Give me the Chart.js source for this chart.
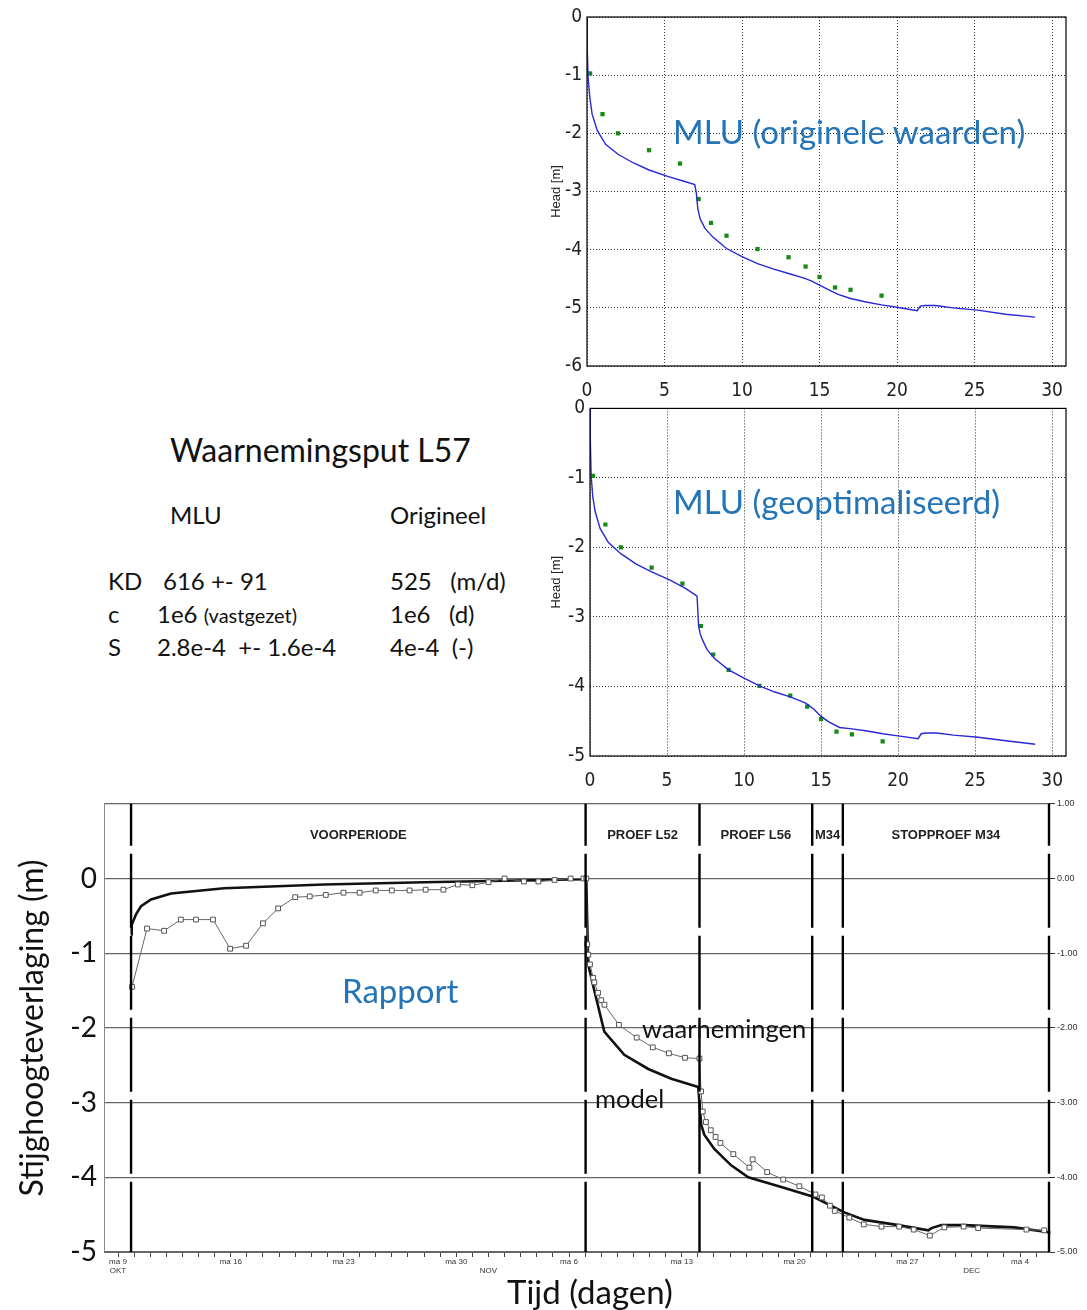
<!DOCTYPE html>
<html>
<head>
<meta charset="utf-8">
<script src="https://cdn.jsdelivr.net/npm/chart.js@4.4.1/dist/chart.umd.min.js"></script>
<style>
html,body{margin:0;padding:0;background:#fff;}
body{width:1087px;height:1310px;position:relative;overflow:hidden;font-family:Lato,'Open Sans',sans-serif;}
canvas{position:absolute;}
.t{position:absolute;white-space:pre;line-height:1;color:#111;}
.blauw{color:#2474b8;}
</style>
</head>
<body>
<canvas id="chartOrigineel" width="547" height="400" style="left:540px;top:0px;width:547px;height:400px"></canvas>
<canvas id="chartOptimaal" width="547" height="400" style="left:540px;top:392px;width:547px;height:400px"></canvas>
<canvas id="chartRapport" width="1087" height="530" style="left:0px;top:780px;width:1087px;height:530px"></canvas>

<div class="t" style="left:170px;top:434px;font-size:32px">Waarnemingsput L57</div>
<div class="t" style="left:170px;top:503px;font-size:24px">MLU</div>
<div class="t" style="left:390px;top:503px;font-size:24px">Origineel</div>
<div class="t" style="left:108px;top:569px;font-size:24px">KD</div>
<div class="t" style="left:163px;top:569px;font-size:24px">616 +- 91</div>
<div class="t" style="left:390px;top:569px;font-size:24px">525   (m/d)</div>
<div class="t" style="left:108px;top:602px;font-size:24px">c</div>
<div class="t" style="left:157px;top:602px;font-size:24px">1e6 <span style="font-size:20px">(vastgezet)</span></div>
<div class="t" style="left:390px;top:602px;font-size:24px">1e6   (d)</div>
<div class="t" style="left:108px;top:635px;font-size:24px">S</div>
<div class="t" style="left:157px;top:635px;font-size:24px">2.8e-4  +- 1.6e-4</div>
<div class="t" style="left:390px;top:635px;font-size:24px">4e-4  (-)</div>

<div class="t blauw" style="left:673px;top:115px;font-size:33px">MLU (originele waarden)</div>
<div class="t blauw" style="left:673px;top:485px;font-size:33px">MLU (geoptimaliseerd)</div>
<div class="t blauw" style="left:342px;top:974px;font-size:33px">Rapport</div>
<div class="t" style="left:642px;top:1016px;font-size:25.5px">waarnemingen</div>
<div class="t" style="left:595px;top:1086px;font-size:25.5px">model</div>
<div class="t" style="left:507px;top:1275px;font-size:33px">Tijd (dagen)</div>

<script>
/* MLU-fits en rapportgrafiek voor waarnemingsput L57 */

// MLU: tijd in dagen sinds start proef L52
var mluMetingTijd = [0.2, 1, 2, 4, 6, 7.2, 8, 9, 11, 13, 14.1, 15, 16, 17, 19];
var mluMetingHead = [-0.97, -1.67, -2.0, -2.29, -2.52, -3.13, -3.54, -3.76, -3.99, -4.13, -4.29, -4.47, -4.65, -4.69, -4.79];

var mluModelTijd = [0, 0.02, 0.07, 0.18, 0.33, 0.66, 1.2, 2, 3, 4, 5.2, 6.2, 6.95, 7.05, 7.15, 7.3, 7.6, 8.1, 9, 10,
  11, 12, 13, 14, 14.5, 15, 15.5, 16.2, 17, 18, 19, 20, 21.3, 21.5, 21.8, 22.5, 23.6, 25.2, 27, 28.9];
var mluOrigineelHead = [0, -0.58, -1.04, -1.38, -1.67, -1.95, -2.19, -2.36, -2.51, -2.63, -2.74, -2.82, -2.88, -3.02, -3.3, -3.47, -3.63, -3.78, -3.98, -4.12,
  -4.24, -4.33, -4.41, -4.49, -4.54, -4.61, -4.68, -4.77, -4.84, -4.9, -4.95, -4.99, -5.05, -4.97, -4.96, -4.96, -5.0, -5.04, -5.11, -5.16];
var mluOptimaalHead = [0, -0.43, -0.95, -1.27, -1.48, -1.73, -1.93, -2.09, -2.24, -2.35, -2.47, -2.59, -2.70, -3.13, -3.24, -3.33, -3.47, -3.6, -3.76, -3.88,
  -3.99, -4.08, -4.15, -4.24, -4.32, -4.43, -4.51, -4.59, -4.61, -4.64, -4.68, -4.71, -4.75, -4.68, -4.67, -4.67, -4.70, -4.73, -4.78, -4.83];

var mluTijdTicks = [0, 5, 10, 15, 20, 25, 30];

// Rapport: dagen sinds maandag 9 oktober
var rapportModelDag = [0.81, 0.85, 1.12, 1.43, 2.05, 3.29, 6.58, 12.8, 19.0, 28.9, 29.07, 29.19, 29.57, 30.19, 31.43, 32.92, 34.35, 36.02,
  36.21, 36.4, 37.02, 38.07, 39.13, 41.18, 43.17, 45.09, 46.34, 48.45, 50.31, 50.5, 51.12, 52.55, 55.65, 57.89, 59.69];
var rapportModelStand = [-0.75, -0.62, -0.48, -0.37, -0.28, -0.2, -0.13, -0.08, -0.05, -0.01, 0, -1.15, -1.5, -2.05, -2.36, -2.55, -2.68, -2.79,
  -3.3, -3.43, -3.62, -3.84, -4.0, -4.13, -4.26, -4.47, -4.57, -4.64, -4.71, -4.68, -4.64, -4.64, -4.67, -4.74, -4.77];

var rapportMetingDag = [0.87, 1.8, 2.86, 3.9, 4.84, 5.9, 6.96, 7.95, 9.0, 9.94, 11.0, 11.9, 12.9, 14.0, 15.0, 16.0, 17.0, 18.1, 19.1, 20.2,
  21.1, 22.0, 23.0, 24.0, 25.2, 26.1, 27.1, 28.1, 28.9,
  29.07, 29.13, 29.2, 29.3, 29.5, 29.57, 29.8, 30.0, 30.2, 31.1, 32.2, 33.2, 34.2, 35.2, 36.1,
  36.2, 36.3, 36.5, 36.8, 37.1, 37.4, 38.2, 39.2, 39.4, 40.3, 41.3, 42.3, 43.3, 43.7, 44.2, 44.5, 45.4, 46.3, 47.4, 48.5,
  49.4, 50.4, 51.3, 52.5, 53.4, 56.4, 57.5];
var rapportMetingStand = [-1.45, -0.67, -0.70, -0.55, -0.55, -0.55, -0.94, -0.9, -0.6, -0.4, -0.25, -0.24, -0.22, -0.19, -0.19, -0.16, -0.16, -0.16, -0.15, -0.15,
  -0.08, -0.09, -0.05, 0.0, -0.04, -0.04, -0.02, 0, 0,
  0, -0.88, -1.02, -1.15, -1.33, -1.39, -1.53, -1.63, -1.69, -1.96, -2.13, -2.26, -2.34, -2.4, -2.41,
  -2.85, -3.12, -3.26, -3.37, -3.46, -3.54, -3.69, -3.87, -3.76, -3.93, -4.03, -4.12, -4.23, -4.27, -4.38, -4.45, -4.54, -4.63, -4.66, -4.66,
  -4.7, -4.78, -4.67, -4.66, -4.68, -4.7, -4.71];

var periodeGrens = [0.81, 29.03, 36.1, 43.1, 45.0, 57.8];
var periodeNamen = ['VOORPERIODE', 'PROEF L52', 'PROEF L56', 'M34', 'STOPPROEF M34'];

var weekDagen = [0, 7, 14, 21, 28, 35, 42, 49, 56];
var weekLabels = ['ma 9', 'ma 16', 'ma 23', 'ma 30', 'ma 6', 'ma 13', 'ma 20', 'ma 27', 'ma 4'];
var maandDagen = [0, 23, 53];
var maandLabels = ['OKT', 'NOV', 'DEC'];

(function(){
'use strict';

var SMAL = "'Liberation Sans Narrow','DejaVu Sans Condensed',Arial,sans-serif";
var ARIAL = "'Liberation Sans',Arial,sans-serif";

function punten(xs, ys){ return xs.map(function(x, i){ return {x:x, y:ys[i]}; }); }

var kader = {
  id:'kader',
  afterDatasetsDraw: function(chart){
    var a = chart.chartArea, ctx = chart.ctx;
    ctx.save();
    ctx.strokeStyle = '#000';
    ctx.lineWidth = 1.2;
    ctx.strokeRect(a.left, a.top, a.right - a.left, a.bottom - a.top);
    ctx.restore();
  }
};

function mluChart(id, modelHead, yMin, yWidth, padTop, xHeight){
  var yTicks = [];
  for(var v = 0; v >= yMin; v--) yTicks.push(v);
  return new Chart(document.getElementById(id), {
    type:'scatter',
    data:{datasets:[
      {data:punten(mluModelTijd, modelHead), showLine:true, borderColor:'#2828d8', borderWidth:1.4, pointRadius:0},
      {data:punten(mluMetingTijd, mluMetingHead), pointStyle:'rect', pointRadius:3,
       backgroundColor:'#168a16', borderColor:'#168a16', borderWidth:0}
    ]},
    options:{
      responsive:false, animation:false, events:[],
      layout:{padding:{top:padTop, right:21, left:0, bottom:0}},
      plugins:{legend:{display:false}, tooltip:{enabled:false}},
      scales:{
        x:{
          type:'linear', min:0, max:30.9,
          afterBuildTicks:function(s){ s.ticks = mluTijdTicks.map(function(t){ return {value:t}; }); },
          afterFit:function(s){ s.height = xHeight; },
          grid:{color:'#333', lineWidth:1, drawTicks:false},
          border:{display:false, dash:[1,2]},
          ticks:{padding:14, color:'#222', font:{family:SMAL, size:19}}
        },
        y:{
          type:'linear', min:yMin, max:0,
          afterBuildTicks:function(s){ s.ticks = yTicks.map(function(t){ return {value:t}; }); },
          afterFit:function(s){ s.width = yWidth; },
          grid:{color:'#333', lineWidth:1, drawTicks:false},
          border:{display:false, dash:[1,2]},
          ticks:{padding:5, color:'#222', font:{family:SMAL, size:19}},
          title:{display:true, text:'Head [m]', color:'#222', font:{family:ARIAL, size:13}, padding:{top:9, bottom:0}}
        }
      }
    },
    plugins:[kader]
  });
}

mluChart('chartOrigineel', mluOrigineelHead, -6, 47, 17, 34);
mluChart('chartOptimaal', mluOptimaalHead, -5, 50, 14, 36);

var periodeTekst = {
  id:'periodeTekst',
  afterDatasetsDraw: function(chart){
    var x = chart.scales.x, y = chart.scales.y, ctx = chart.ctx;
    ctx.save();
    ctx.font = 'bold 13px ' + ARIAL;
    ctx.fillStyle = '#222';
    ctx.textAlign = 'center';
    ctx.textBaseline = 'middle';
    periodeNamen.forEach(function(naam, i){
      var mid = (periodeGrens[i] + periodeGrens[i + 1]) / 2;
      ctx.fillText(naam, x.getPixelForValue(mid), y.getPixelForValue(0.57));
    });
    ctx.restore();
  }
};

var grensPunten = [];
periodeGrens.forEach(function(d){ grensPunten.push({x:d, y:1}, {x:d, y:-5}, {x:d, y:null}); });

var dagTicks = [];
for(var d = 0; d <= 57; d++) dagTicks.push({value:d});

new Chart(document.getElementById('chartRapport'), {
  type:'scatter',
  data:{datasets:[
    {data:grensPunten, showLine:true, spanGaps:false, borderColor:'#000', borderWidth:2.4,
     borderDash:[74, 8], borderDashOffset:32, pointRadius:0, clip:4},
    {data:punten(rapportMetingDag, rapportMetingStand), showLine:true, borderColor:'#666', borderWidth:1,
     pointStyle:'rect', pointRadius:3.4, pointBackgroundColor:'#fff', pointBorderColor:'#555', pointBorderWidth:1},
    {data:punten(rapportModelDag, rapportModelStand), showLine:true, borderColor:'#111', borderWidth:2.6,
     pointRadius:0, clip:false}
  ]},
  options:{
    responsive:false, animation:false, events:[],
    layout:{padding:{top:23, right:0, left:0, bottom:0}},
    plugins:{legend:{display:false}, tooltip:{enabled:false}},
    scales:{
      x:{
        type:'linear', min:-0.87, max:57.8,
        afterBuildTicks:function(s){ s.ticks = dagTicks.slice(); },
        afterFit:function(s){ s.height = 58; },
        grid:{drawOnChartArea:false, drawTicks:true, tickLength:5, color:'#444'},
        border:{color:'#666', width:1},
        ticks:{autoSkip:false, maxRotation:0, padding:1, color:'#333', font:{family:ARIAL, size:8, lineHeight:1.05},
          callback:function(v){
            var i = weekDagen.indexOf(v), j = maandDagen.indexOf(v);
            if(i < 0 && j < 0) return '';
            return [i >= 0 ? weekLabels[i] : '', j >= 0 ? maandLabels[j] : ''];
          }}
      },
      y:{
        type:'linear', min:-5, max:1,
        ticks:{stepSize:1, padding:7, color:'#111', font:{family:'Lato', size:28},
          callback:function(v){ return v > 0 ? '' : String(v); }},
        afterFit:function(s){ s.width = 104; },
        grid:{color:'#666', lineWidth:1.2, drawTicks:false},
        border:{color:'#888', width:1},
        title:{display:true, text:'Stijghoogteverlaging (m)', color:'#111', font:{family:'Lato', size:32}, padding:{top:13, bottom:0}}
      },
      y2:{
        type:'linear', position:'right', min:-5, max:1,
        ticks:{stepSize:1, padding:2, color:'#333', font:{family:ARIAL, size:9},
          callback:function(v){ return v.toFixed(2); }},
        afterFit:function(s){ s.width = 38; },
        grid:{drawOnChartArea:false, drawTicks:true, tickLength:6, color:'#333'},
        border:{display:false}
      }
    }
  },
  plugins:[periodeTekst]
});
})();
</script>
</body>
</html>
